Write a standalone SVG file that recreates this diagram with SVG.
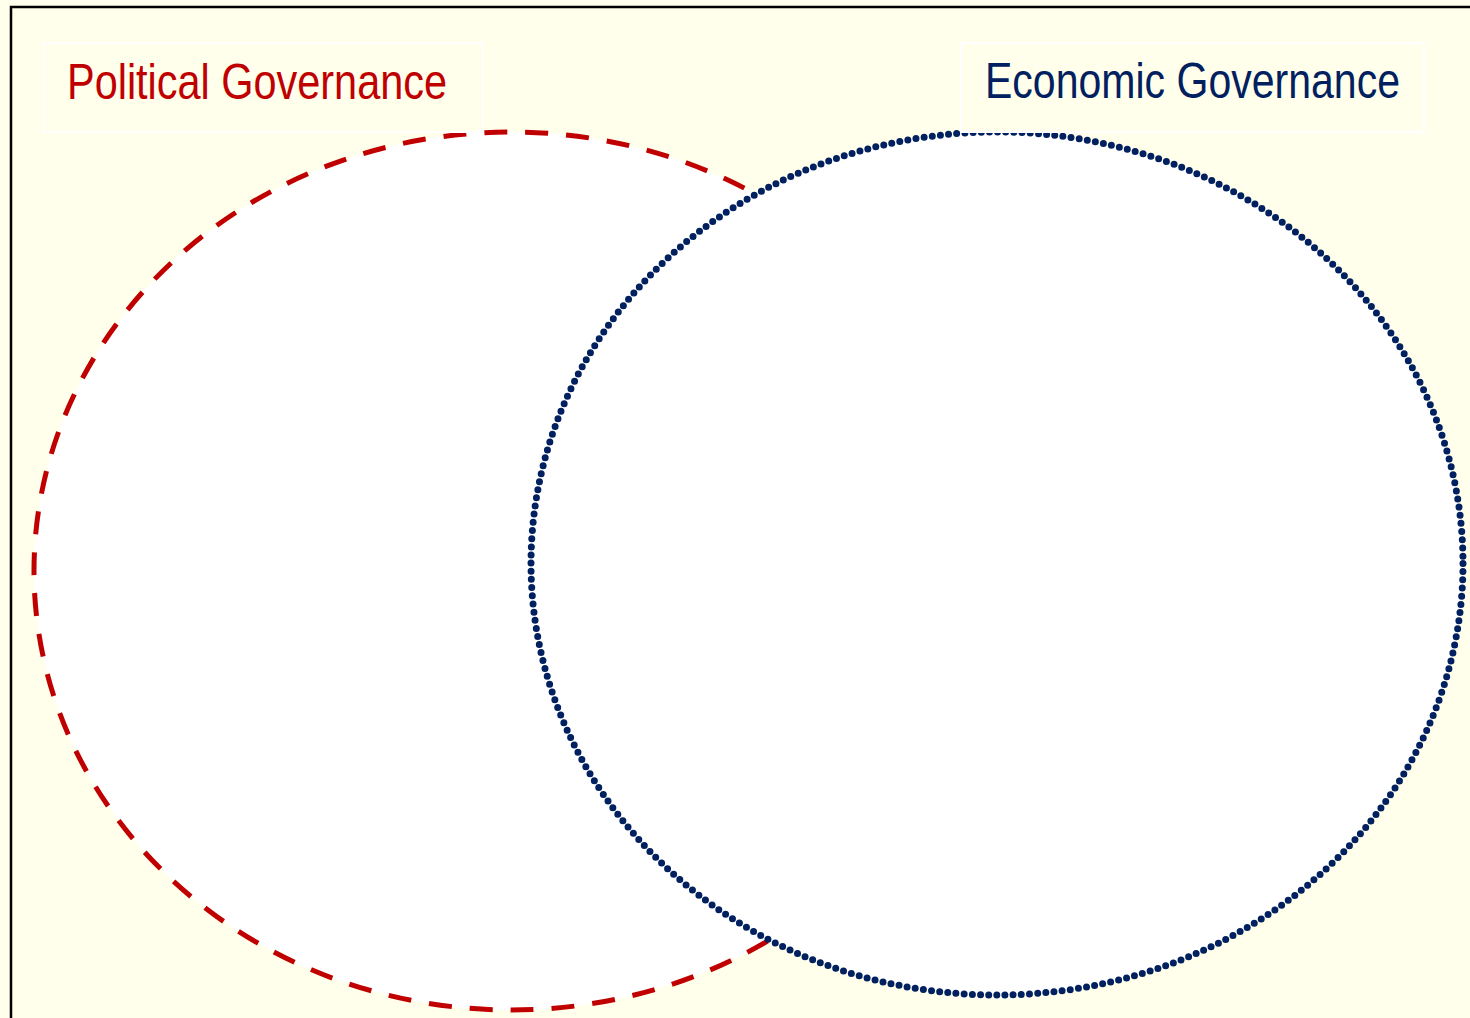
<svg xmlns="http://www.w3.org/2000/svg" width="1470" height="1018" viewBox="0 0 1470 1018">
  <style>
    .label-box { fill: #FFFFEB; stroke: #FFFFFF; stroke-width: 2; }
    .label { font-family: "Liberation Sans Narrow", "Arial Narrow", "Liberation Sans", sans-serif; font-size: 50px; }
    .set { fill: #FFFFFF; }
  </style>
  <!-- page background and frame -->
  <rect x="0" y="0" width="1470" height="1018" fill="#FFFFEB"/>
  <rect x="11" y="7" width="1480" height="1030" fill="none" stroke="#000000" stroke-width="2.5"/>

  <!-- political set: red dashed ellipse -->
  <g id="political-set">
    <ellipse class="set" cx="511" cy="571" rx="477" ry="439" stroke="#C00000" stroke-width="5" stroke-dasharray="23 18"/>
  </g>

  <!-- economic set: navy dotted ellipse, drawn over the political one -->
  <g id="economic-set">
    <ellipse class="set" cx="997" cy="563.5" rx="466" ry="431.5" stroke="#002060" stroke-width="7" stroke-dasharray="0 8.2" stroke-linecap="round"/>
  </g>

  <!-- set captions -->
  <g id="political-label">
    <rect class="label-box" x="44" y="43" width="439" height="89"/>
    <text class="label" x="67" y="99" fill="#C00000" textLength="380" lengthAdjust="spacingAndGlyphs">Political Governance</text>
  </g>
  <g id="economic-label">
    <rect class="label-box" x="961" y="43" width="463" height="89"/>
    <text class="label" x="985" y="98" fill="#002060" textLength="415" lengthAdjust="spacingAndGlyphs">Economic Governance</text>
  </g>
  <g id="connectors"/>
</svg>
